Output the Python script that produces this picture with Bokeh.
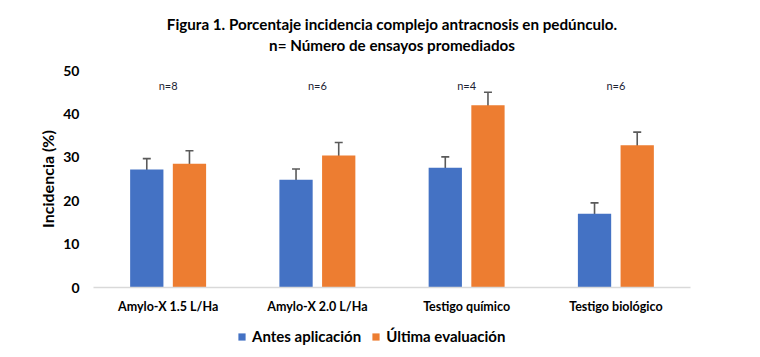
from bokeh.plotting import figure
from bokeh.layouts import column
from bokeh.models import (ColumnDataSource, FactorRange, Whisker, TeeHead, Legend,
                          LegendItem, Title, Range1d, LabelSet)
from bokeh.transform import dodge
from bokeh.embed import file_html
from bokeh.resources import INLINE
from bokeh.core.properties import value

categories = ["Amylo-X 1.5 L/Ha", "Amylo-X 2.0 L/Ha", "Testigo químico", "Testigo biológico"]
antes = [27.2, 24.8, 27.6, 17.0]
antes_err = [2.5, 2.5, 2.5, 2.5]
ultima = [28.5, 30.4, 42.0, 32.8]
ultima_err = [3.0, 3.0, 3.0, 3.0]
n_labels = ["n=8", "n=6", "n=4", "n=6"]
series_names = ["Antes aplicación", "Última evaluación"]
y_ticks = [0, 10, 20, 30, 40, 50]

BLUE = "#4472C4"
ORANGE = "#ED7D31"
FONT = "Lato"
N_Y = 46.6

src = ColumnDataSource(dict(
    cat=categories,
    antes=antes,
    antes_lo=[v - e for v, e in zip(antes, antes_err)],
    antes_hi=[v + e for v, e in zip(antes, antes_err)],
    ultima=ultima,
    ultima_lo=[v - e for v, e in zip(ultima, ultima_err)],
    ultima_hi=[v + e for v, e in zip(ultima, ultima_err)],
    n=n_labels,
    ny=[N_Y] * len(categories),
))

p = figure(x_range=FactorRange(factors=categories, range_padding=0),
           y_range=Range1d(0, 50),
           frame_width=597, frame_height=217, output_backend="svg", toolbar_location=None,
           min_border_left=93, min_border_right=54, min_border_top=70, min_border_bottom=32)

OFF = 0.143
W = 0.223
p.vbar(x=dodge("cat", -OFF, range=p.x_range), top="antes", width=W, source=src,
       fill_color=BLUE, line_color=None)
p.vbar(x=dodge("cat", OFF, range=p.x_range), top="ultima", width=W, source=src,
       fill_color=ORANGE, line_color=None)

for off, lo, hi in [(-OFF, "antes_lo", "antes_hi"), (OFF, "ultima_lo", "ultima_hi")]:
    w = Whisker(base=dodge("cat", off, range=p.x_range), lower=lo, upper=hi, source=src,
                line_color="#5a5a5a", line_width=1.6,
                upper_head=TeeHead(size=8, line_color="#5a5a5a", line_width=1.6),
                lower_head=TeeHead(size=8, line_color="#5a5a5a", line_width=1.6))
    p.add_layout(w)

p.add_layout(LabelSet(x="cat", y="ny", text="n", source=src, text_align="center",
                      text_baseline="middle", text_font=value(FONT), text_font_size="11px",
                      text_color="#1c2333"))

p.xgrid.grid_line_color = None
p.ygrid.grid_line_color = None
p.outline_line_color = None

p.yaxis.ticker = y_ticks
p.yaxis.axis_line_color = None
p.yaxis.major_tick_line_color = None
p.yaxis.minor_tick_line_color = None
p.yaxis.major_label_text_font = FONT
p.yaxis.major_label_text_font_style = "bold"
p.yaxis.major_label_text_font_size = "14px"
p.yaxis.major_label_text_color = "#000000"
p.yaxis.major_label_standoff = 8
p.yaxis.axis_label = "Incidencia (%)"
p.yaxis.axis_label_text_font = FONT
p.yaxis.axis_label_text_font_style = "bold"
p.yaxis.axis_label_text_font_size = "16px"
p.yaxis.axis_label_text_color = "#000000"
p.yaxis.axis_label_standoff = 3

p.xaxis.axis_line_color = "#d9d9d9"
p.xaxis.axis_line_width = 1.5
p.xaxis.major_tick_line_color = None
p.xaxis.minor_tick_line_color = None
p.xaxis.major_label_text_font = FONT
p.xaxis.major_label_text_font_style = "bold"
p.xaxis.major_label_text_font_size = "12.5px"
p.xaxis.major_label_text_color = "#000000"
p.xaxis.major_label_standoff = 5

# titles: spacer first (closest to the frame), then line 2, then line 1
p.add_layout(Title(text=" ", text_font=FONT, text_font_size="10px", standoff=2), "above")
p.add_layout(Title(text="n= Número de ensayos promediados", align="center",
                   text_font=FONT, text_font_size="15.2px", text_font_style="bold",
                   text_color="#000000", standoff=2), "above")
p.add_layout(Title(text="Figura 1. Porcentaje incidencia complejo antracnosis en pedúnculo.",
                   align="center", text_font=FONT, text_font_size="15.2px",
                   text_font_style="bold", text_color="#000000", standoff=0), "above")

# legend row (hidden renderers carry the swatch colours); its frame aligns with the chart's frame
lg = figure(width=744, height=30, output_backend="svg", toolbar_location=None,
            min_border=0, x_axis_type=None, y_axis_type=None)
lg.grid.grid_line_color = None
lg.outline_line_color = None
l1 = lg.vbar(x="antes", top="antes", width=1, source=src, fill_color=BLUE,
             line_color=None, visible=False)
l2 = lg.vbar(x="ultima", top="ultima", width=1, source=src, fill_color=ORANGE,
             line_color=None, visible=False)
legend = Legend(items=[LegendItem(label=series_names[0], renderers=[l1]),
                       LegendItem(label=series_names[1], renderers=[l2])],
                orientation="horizontal", location=(144, 4),
                label_text_font=FONT, label_text_font_style="bold",
                label_text_font_size="15px", label_text_color="#000000",
                glyph_width=9, glyph_height=9, label_standoff=6, spacing=10,
                inactive_fill_alpha=0,
                border_line_color=None, background_fill_alpha=0, padding=2, margin=0)
lg.add_layout(legend, "center")

layout = column(p, lg, spacing=0)
open("out.html", "w").write(file_html(layout, INLINE))
